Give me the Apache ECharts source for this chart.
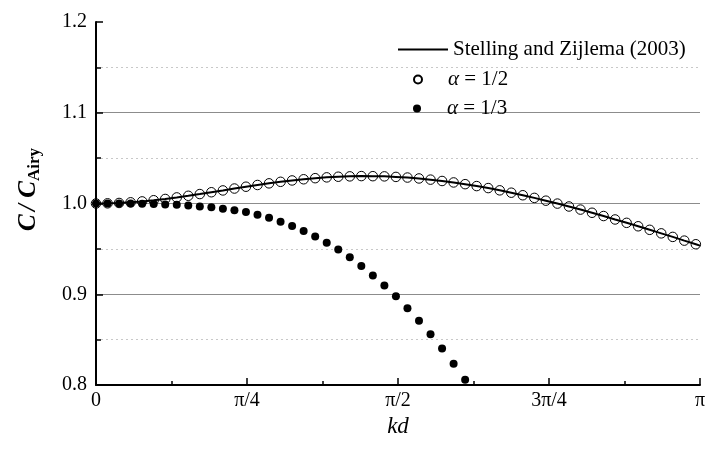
<!DOCTYPE html>
<html>
<head>
<meta charset="utf-8">
<script src="https://cdn.jsdelivr.net/npm/echarts@6/dist/echarts.min.js"></script>
<style>
  html, body { margin: 0; padding: 0; background: #fff; }
  #chart { width: 709px; height: 451px; }
</style>
</head>
<body>
<div id="chart"></div>
<script>
const kdStep = 0.06;

// C / C_Airy, alpha = 1/2 (open circles, same as the reference curve)
const half = [
  1.0000, 1.0002, 1.0006, 1.0013, 1.0023, 1.0036, 1.0050, 1.0067, 1.0085, 1.0104,
  1.0124, 1.0144, 1.0165, 1.0185, 1.0204, 1.0222, 1.0239, 1.0254, 1.0267, 1.0279,
  1.0288, 1.0295, 1.0299, 1.0302, 1.0301, 1.0299, 1.0293, 1.0286, 1.0276, 1.0263,
  1.0248, 1.0232, 1.0213, 1.0192, 1.0170, 1.0145, 1.0119, 1.0091, 1.0062, 1.0031,
  0.9999, 0.9967, 0.9933, 0.9898, 0.9862, 0.9824, 0.9787, 0.9749, 0.9710, 0.9671,
  0.9632, 0.9591, 0.9551
];

// Stelling and Zijlema (2003) line: same samples plus the end point at kd = pi
const szEnd = 0.9536;

// C / C_Airy, alpha = 1/3 (filled dots, visible part above 0.8)
const third = [
  1.0000, 1.0000, 1.0000, 1.0000, 0.9998, 0.9995, 0.9990, 0.9985, 0.9977, 0.9968,
  0.9958, 0.9943, 0.9925, 0.9905, 0.9877, 0.9842, 0.9800, 0.9752, 0.9698, 0.9636,
  0.9567, 0.9492, 0.9407, 0.9312, 0.9207, 0.9096, 0.8979, 0.8846, 0.8707, 0.8560,
  0.8402, 0.8233, 0.8057
];

const xTickLabels = ['0', 'π/4', 'π/2', '3π/4', 'π'];

const seriesNames = ['Stelling and Zijlema (2003)', 'α = 1/2', 'α = 1/3'];

const pts = vals => vals.map((v, i) => [+(i * kdStep).toFixed(2), v]);
const lineData = pts(half).concat([[Math.PI, szEnd]]);

const serif = 'Liberation Serif';

const chart = echarts.init(document.getElementById('chart'));

const legendText = {
  fontFamily: serif,
  fontSize: 21,
  color: '#000',
  rich: {
    p: { width: 21 },
    a: { fontFamily: serif, fontSize: 21, fontStyle: 'italic', color: '#000' }
  }
};
const legendFmt = name => name.startsWith('α') ? '{p|}{a|α}' + name.slice(1) : name;

chart.setOption({
  animation: false,
  grid: { left: 96, right: 9, top: 22, bottom: 66 },
  legend: [
    {
      data: [seriesNames[0]], left: 393, top: 34, icon: 'rect',
      itemWidth: 50, itemHeight: 2,
      textStyle: legendText, formatter: legendFmt
    },
    {
      data: [seriesNames[1]], left: 408, top: 64, icon: 'circle',
      itemWidth: 8, itemHeight: 8,
      textStyle: legendText, formatter: legendFmt
    },
    {
      data: [seriesNames[2]], left: 408, top: 93, icon: 'circle',
      itemWidth: 8, itemHeight: 8,
      textStyle: legendText, formatter: legendFmt
    }
  ],
  xAxis: {
    type: 'value',
    min: 0,
    max: Math.PI,
    interval: Math.PI / 4,
    name: 'kd',
    nameLocation: 'middle',
    nameGap: 30,
    nameTextStyle: { fontFamily: serif, fontSize: 23, fontStyle: 'italic', color: '#000' },
    axisLine: { onZero: false, lineStyle: { color: '#000', width: 2 } },
    axisTick: { inside: true, length: 7, lineStyle: { color: '#000', width: 1.5 } },
    minorTick: { show: true, splitNumber: 2, length: 4, lineStyle: { color: '#000', width: 1.5 } },
    axisLabel: {
      fontFamily: serif, fontSize: 20, color: '#000', margin: 6,
      formatter: v => xTickLabels[Math.round(v / (Math.PI / 4))]
    },
    splitLine: { show: false }
  },
  yAxis: {
    type: 'value',
    min: 0.8,
    max: 1.2,
    interval: 0.1,
    name: '{c|C} {c|/ C}{s|Airy}',
    nameLocation: 'middle',
    nameGap: 53,
    nameTextStyle: {
      padding: [0, 0, 0, 28],
      rich: {
        c: { fontFamily: serif, fontSize: 25, fontWeight: 'bold', fontStyle: 'italic', color: '#000' },
        s: { fontFamily: serif, fontSize: 17, fontWeight: 'bold', color: '#000', padding: [12, 0, 0, 0] }
      }
    },
    axisLine: { lineStyle: { color: '#000', width: 2 } },
    axisTick: { inside: true, length: 7, lineStyle: { color: '#000', width: 1.5 } },
    minorTick: { show: true, splitNumber: 2, length: 5, lineStyle: { color: '#000', width: 1.5 } },
    axisLabel: {
      fontFamily: serif, fontSize: 20, color: '#000', margin: 9,
      formatter: v => v.toFixed(1)
    },
    splitLine: { show: true, showMinLine: false, showMaxLine: false, lineStyle: { color: '#8c8c8c', width: 1 } },
    minorSplitLine: { show: true, lineStyle: { color: '#c8c8c8', width: 1.2, type: [2, 3] } }
  },
  series: [
    {
      name: seriesNames[0],
      type: 'line',
      data: lineData,
      symbol: 'none',
      lineStyle: { color: '#000', width: 2 },
      itemStyle: { color: '#000' },
      z: 3
    },
    {
      name: seriesNames[1],
      type: 'scatter',
      data: pts(half),
      symbol: 'circle',
      symbolSize: 9.5,
      itemStyle: { color: 'rgba(255,255,255,0)', borderColor: '#000', borderWidth: 1, opacity: 1 },
      z: 4
    },
    {
      name: seriesNames[2],
      type: 'scatter',
      data: pts(third),
      symbol: 'circle',
      symbolSize: 8,
      itemStyle: { color: '#000', opacity: 1 },
      z: 5
    }
  ]
});
</script>
</body>
</html>
